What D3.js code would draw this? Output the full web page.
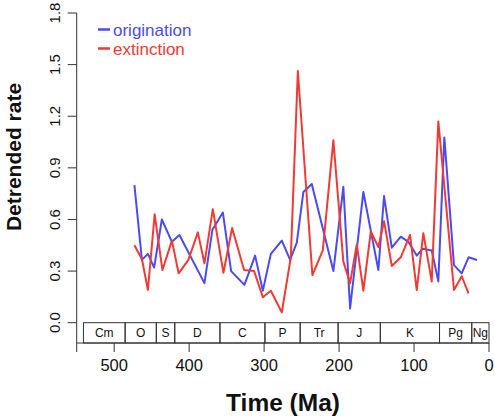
<!DOCTYPE html>
<html>
<head>
<meta charset="utf-8">
<script src="https://cdn.jsdelivr.net/npm/d3@7"></script>
<style>
  html, body { margin: 0; padding: 0; background: #fff; }
  svg { display: block; font-family: "Liberation Sans", Arial, Helvetica, sans-serif; }
</style>
</head>
<body>
<svg id="chart" width="495" height="418"></svg>
<script>
// ---- data ----
const originationAge = [473, 463, 455, 446.7, 436.4, 423, 413, 379.6, 369, 355, 344, 326.3, 312, 301.7, 291, 276.4, 265.3, 256.4, 247.6, 236.4, 207.6, 194.3, 185.3, 167.6, 147.6, 140, 129.7, 117.7, 107.6, 96.4, 88.4, 76.4, 67.6, 59.6, 46.7, 36.4, 27.3, 16];
const originationRate = [0.80, 0.365, 0.40, 0.32, 0.60, 0.47, 0.51, 0.23, 0.54, 0.64, 0.30, 0.22, 0.39, 0.186, 0.40, 0.477, 0.365, 0.465, 0.76, 0.806, 0.30, 0.79, 0.083, 0.76, 0.306, 0.736, 0.436, 0.50, 0.47, 0.39, 0.43, 0.42, 0.24, 1.077, 0.335, 0.287, 0.38, 0.364];

const extinctionAge = [473, 463, 455, 446, 435.6, 423, 414, 401, 388.4, 379.6, 368.4, 354.3, 342.7, 326.7, 313.3, 301.7, 291, 276.4, 264.4, 255, 235.6, 221.7, 207.6, 194.3, 185.3, 176.4, 167.6, 157.7, 147.6, 140, 129.7, 117.7, 105.3, 96.4, 87.6, 76.4, 67.6, 46.7, 36.4, 27.3];
const extinctionRate = [0.45, 0.37, 0.19, 0.63, 0.306, 0.477, 0.287, 0.365, 0.525, 0.345, 0.66, 0.29, 0.55, 0.306, 0.30, 0.148, 0.186, 0.06, 0.38, 1.463, 0.277, 0.42, 1.06, 0.355, 0.23, 0.455, 0.186, 0.53, 0.44, 0.59, 0.33, 0.38, 0.51, 0.19, 0.52, 0.24, 1.17, 0.19, 0.27, 0.17];

const periodNames = ["Cm", "O", "S", "D", "C", "P", "Tr", "J", "K", "Pg", "Ng"];
const periodStart = [541, 485.4, 443.8, 419.2, 358.9, 298.9, 251.9, 201.3, 145, 66, 23];
const periodEnd   = [485.4, 443.8, 419.2, 358.9, 298.9, 251.9, 201.3, 145, 66, 23, 0];

const xTicks = [500, 400, 300, 200, 100, 0];
const yTicks = [0, 0.3, 0.6, 0.9, 1.2, 1.5, 1.8];

const seriesNames = ["origination", "extinction"];
const seriesColors = ["#4b4bf2", "#f03a33"];

// ---- layout ----
const svg = d3.select("#chart");
const x = d3.scaleLinear().domain([550, 0]).range([76.7, 489]);
const y = d3.scaleLinear().domain([0, 1.8]).range([322.7, 13]);
const boxTop = 322.7, boxBottom = 343;

// y axis
const yAxisG = svg.append("g").attr("transform", "translate(76.7,0)");
yAxisG.append("line").attr("x1", 0).attr("x2", 0).attr("y1", y(1.8)).attr("y2", 352)
  .attr("stroke", "#333").attr("stroke-width", 1);
yAxisG.selectAll("line.tick").data(yTicks).enter().append("line")
  .attr("class", "tick").attr("x1", -9).attr("x2", 0)
  .attr("y1", d => y(d)).attr("y2", d => y(d)).attr("stroke", "#333");
yAxisG.selectAll("text").data(yTicks).enter().append("text")
  .attr("transform", d => `translate(-17,${y(d)}) rotate(-90)`)
  .attr("text-anchor", "middle")
  .attr("font-size", 15)
  .attr("fill", "#111")
  .text(d => d3.format(".1f")(d));

svg.append("text")
  .attr("transform", `translate(21,157) rotate(-90)`)
  .attr("text-anchor", "middle")
  .attr("font-size", 21).attr("font-weight", "bold").attr("fill", "#111")
  .text("Detrended rate");

// timescale boxes
const tsG = svg.append("g");
tsG.selectAll("rect").data(periodNames).enter().append("rect")
  .attr("x", (d, i) => x(periodStart[i]))
  .attr("width", (d, i) => x(periodEnd[i]) - x(periodStart[i]))
  .attr("y", boxTop).attr("height", boxBottom - boxTop)
  .attr("fill", "none").attr("stroke", "#333").attr("stroke-width", 1);
tsG.selectAll("text").data(periodNames).enter().append("text")
  .attr("x", (d, i) => (x(periodStart[i]) + x(periodEnd[i])) / 2)
  .attr("y", (boxTop + boxBottom) / 2 + 4.5)
  .attr("text-anchor", "middle").attr("font-size", 12).attr("fill", "#111")
  .text(d => d);

// x axis
const xAxisG = svg.append("g");
xAxisG.append("line").attr("x1", x(550)).attr("x2", x(0)).attr("y1", boxBottom).attr("y2", boxBottom)
  .attr("stroke", "#333");
xAxisG.selectAll("line.tick").data(xTicks).enter().append("line")
  .attr("class", "tick").attr("x1", d => x(d)).attr("x2", d => x(d))
  .attr("y1", boxBottom).attr("y2", boxBottom + 9).attr("stroke", "#333");
xAxisG.selectAll("text").data(xTicks).enter().append("text")
  .attr("x", d => x(d)).attr("y", 371)
  .attr("text-anchor", "middle").attr("font-size", 16.5).attr("fill", "#111")
  .text(d => d);

svg.append("text")
  .attr("x", 283).attr("y", 411)
  .attr("text-anchor", "middle")
  .attr("font-size", 24.5).attr("font-weight", "bold").attr("fill", "#111")
  .text("Time (Ma)");

// lines
const line = d3.line().x(d => x(d[0])).y(d => y(d[1]));
const origData = originationAge.map((a, i) => [a, originationRate[i]]);
const extData = extinctionAge.map((a, i) => [a, extinctionRate[i]]);

svg.append("path").datum(origData).attr("d", line)
  .attr("fill", "none").attr("stroke", seriesColors[0]).attr("stroke-width", 2).attr("stroke-linejoin", "round");
svg.append("path").datum(extData).attr("d", line)
  .attr("fill", "none").attr("stroke", seriesColors[1]).attr("stroke-width", 2).attr("stroke-linejoin", "round");

// legend
const legG = svg.append("g");
seriesNames.forEach((n, i) => {
  const ly = 29.5 + i * 19;
  legG.append("line").attr("x1", 98).attr("x2", 110).attr("y1", ly).attr("y2", ly)
    .attr("stroke", seriesColors[i]).attr("stroke-width", 2.5);
  legG.append("text").attr("x", 113).attr("y", ly + 6)
    .attr("font-size", 17).attr("fill", seriesColors[i]).text(n);
});
</script>
</body>
</html>
